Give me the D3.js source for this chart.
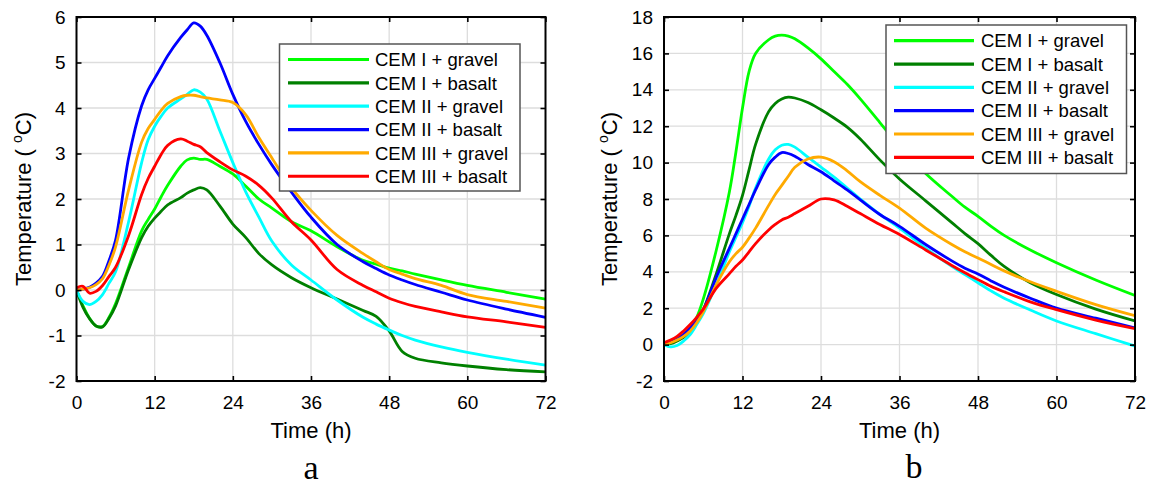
<!DOCTYPE html>
<html><head><meta charset="utf-8">
<script src="https://cdn.jsdelivr.net/npm/d3@7"></script>
<style>
body{margin:0;background:#fff}
svg{display:block}
text{font-family:"Liberation Sans",Arial,Helvetica,sans-serif;fill:#000}
text.letter{font-family:"Liberation Serif","Times New Roman",serif}
</style>
</head><body>
<svg id="chart" width="1150" height="486"></svg>
<script>
// ---------- data ----------
const seriesNames = ["CEM I + gravel","CEM I + basalt","CEM II + gravel","CEM II + basalt","CEM III + gravel","CEM III + basalt"];
const seriesColors = ["#00ff00","#008000","#00ffff","#0000ff","#ffaa00","#ff0000"];
const timeH = [0,1,2,3,4,5,6,8,10,11,12,13,14,16,17,18,19,20,22,24,26,28,30,33,36,40,44,46,48,50,52,56,60,66,72];
const xTickValues = [0,12,24,36,48,60,72];
const yTickValuesA = [-2,-1,0,1,2,3,4,5,6];
const yTickValuesB = [-2,0,2,4,6,8,10,12,14,16,18];
const panelLetters = ["a","b"];

// panel a
const a_cem1Gravel = [0,-0.35,-0.62,-0.79,-0.8,-0.6,-0.3,0.5,1.3,1.55,1.78,2.05,2.3,2.72,2.86,2.9,2.87,2.87,2.72,2.55,2.28,2.0,1.8,1.5,1.3,0.95,0.65,0.57,0.48,0.42,0.35,0.22,0.1,-0.05,-0.2];
const a_cem1Basalt = [0,-0.38,-0.63,-0.79,-0.81,-0.62,-0.35,0.45,1.15,1.4,1.58,1.73,1.87,2.03,2.13,2.2,2.25,2.2,1.85,1.45,1.15,0.8,0.55,0.27,0.05,-0.2,-0.45,-0.58,-0.9,-1.35,-1.5,-1.6,-1.67,-1.75,-1.8];
const a_cem2Gravel = [0,-0.25,-0.32,-0.25,-0.1,0.15,0.4,1.5,2.8,3.3,3.6,3.82,4.0,4.2,4.3,4.4,4.35,4.2,3.5,2.8,2.15,1.6,1.07,0.55,0.22,-0.22,-0.6,-0.75,-0.88,-1.0,-1.1,-1.25,-1.37,-1.52,-1.65];
const a_cem2Basalt = [0,0.02,0.06,0.15,0.3,0.65,1.1,2.9,4.05,4.4,4.65,4.9,5.15,5.55,5.72,5.87,5.8,5.6,5.0,4.3,3.7,3.2,2.75,2.15,1.6,1.0,0.62,0.47,0.33,0.22,0.12,-0.05,-0.22,-0.42,-0.6];
const a_cem3Gravel = [0,0.02,0.05,0.12,0.25,0.55,0.95,2.2,3.25,3.55,3.75,3.95,4.1,4.25,4.28,4.28,4.25,4.22,4.18,4.12,3.85,3.35,2.9,2.25,1.75,1.2,0.8,0.62,0.45,0.35,0.25,0.1,-0.1,-0.25,-0.4];
const a_cem3Basalt = [0.05,0.08,-0.07,-0.03,0.1,0.3,0.5,1.2,2.1,2.45,2.72,2.98,3.18,3.32,3.27,3.2,3.15,3.02,2.82,2.64,2.5,2.3,2.02,1.5,1.1,0.45,0.1,-0.04,-0.18,-0.28,-0.36,-0.48,-0.59,-0.7,-0.82];

// panel b
const b_cem1Gravel = [0,0.1,0.3,0.55,0.9,1.5,2.5,5.2,8.4,10.6,13.0,15.0,16.0,16.75,16.95,17.0,16.95,16.8,16.3,15.7,15.0,14.3,13.5,12.2,10.9,9.4,8.15,7.55,7.05,6.5,6.0,5.2,4.5,3.55,2.7];
const b_cem1Basalt = [0,0.05,0.2,0.4,0.75,1.25,1.9,3.9,6.1,7.1,8.2,9.6,11.0,12.8,13.25,13.5,13.6,13.55,13.3,12.9,12.45,11.95,11.3,10.15,9.1,7.9,6.7,6.1,5.55,4.9,4.3,3.4,2.75,1.95,1.3];
const b_cem2Gravel = [0,-0.12,-0.05,0.2,0.55,1.1,1.7,3.3,5.1,5.9,6.7,7.6,8.6,10.2,10.7,10.95,11.0,10.85,10.3,9.75,9.2,8.6,8.0,7.15,6.4,5.3,4.3,3.85,3.4,2.95,2.55,1.9,1.3,0.6,-0.08];
const b_cem2Basalt = [0.05,0.15,0.3,0.55,0.9,1.35,1.9,3.7,5.3,6.1,6.9,7.7,8.5,9.9,10.3,10.55,10.5,10.35,9.9,9.5,9.0,8.5,7.95,7.15,6.5,5.5,4.6,4.2,3.88,3.5,3.15,2.55,2.0,1.45,0.92];
const b_cem3Gravel = [0,0.1,0.25,0.45,0.75,1.2,1.8,3.3,4.55,5.0,5.35,5.85,6.4,7.65,8.25,8.75,9.25,9.75,10.2,10.3,10.05,9.55,8.95,8.2,7.5,6.4,5.5,5.1,4.76,4.4,4.05,3.45,2.93,2.2,1.59];
const b_cem3Basalt = [0.1,0.25,0.45,0.75,1.1,1.5,1.95,3.1,3.9,4.3,4.65,5.1,5.55,6.3,6.6,6.85,7.0,7.2,7.6,8.0,7.95,7.6,7.2,6.6,6.05,5.2,4.35,3.95,3.57,3.2,2.9,2.35,1.92,1.35,0.88];

// ---------- layout ----------
const panels = [
  {series:[a_cem1Gravel,a_cem1Basalt,a_cem2Gravel,a_cem2Basalt,a_cem3Gravel,a_cem3Basalt],
   yDomain:[-2,6], yTicks:yTickValuesA, left:76.5, right:545.5, top:17, bottom:381,
   legend:{x:279.5,y:44,w:240.5,h:147,row0:59.5,rowStep:23.35,lx0:288,lx1:369,tx:375},
   ylabX:31, letterX:311, letterY:479},
  {series:[b_cem1Gravel,b_cem1Basalt,b_cem2Gravel,b_cem2Basalt,b_cem3Gravel,b_cem3Basalt],
   yDomain:[-2,18], yTicks:yTickValuesB, left:664, right:1135, top:17, bottom:381,
   legend:{x:886,y:25,w:240.5,h:148.5,row0:40.7,rowStep:23.33,lx0:894,lx1:974,tx:981},
   ylabX:617, letterX:914, letterY:478}
];

const svg = d3.select("#chart");
svg.append("rect").attr("width",1150).attr("height",486).attr("fill","#fff");

panels.forEach((p,pi)=>{
  const x = d3.scaleLinear().domain([0,72]).range([p.left,p.right]);
  const y = d3.scaleLinear().domain(p.yDomain).range([p.bottom,p.top]);
  const g = svg.append("g");

  // grid
  g.append("g").selectAll("line").data(xTickValues.slice(1,-1)).join("line")
    .attr("x1",d=>x(d)).attr("x2",d=>x(d)).attr("y1",p.top).attr("y2",p.bottom)
    .attr("stroke","#dddddd").attr("stroke-width",1.3);
  g.append("g").selectAll("line").data(p.yTicks.slice(1,-1)).join("line")
    .attr("y1",d=>y(d)).attr("y2",d=>y(d)).attr("x1",p.left).attr("x2",p.right)
    .attr("stroke","#dddddd").attr("stroke-width",1.3);

  // clip
  const cid = "clip"+pi;
  svg.append("clipPath").attr("id",cid).append("rect")
    .attr("x",p.left).attr("y",p.top).attr("width",p.right-p.left).attr("height",p.bottom-p.top);

  const line = d3.line().x((d,i)=>x(timeH[i])).y(d=>y(d)).curve(d3.curveCatmullRom.alpha(0.5));
  g.append("g").attr("clip-path",`url(#${cid})`).selectAll("path").data(p.series).join("path")
    .attr("d",d=>line(d)).attr("fill","none")
    .attr("stroke",(d,i)=>seriesColors[i]).attr("stroke-width",2.8)
    .attr("stroke-linejoin","round");

  // axes
  const fmt = d=>String(d);
  const ax = g.append("g").attr("transform",`translate(0,${p.bottom})`)
    .call(d3.axisBottom(x).tickValues(xTickValues).tickSizeInner(-5).tickSizeOuter(0).tickPadding(15).tickFormat(fmt));
  const axT = g.append("g").attr("transform",`translate(0,${p.top})`)
    .call(d3.axisTop(x).tickValues(xTickValues).tickSizeInner(-5).tickSizeOuter(0).tickFormat(""));
  const ayL = g.append("g").attr("transform",`translate(${p.left},0)`)
    .call(d3.axisLeft(y).tickValues(p.yTicks).tickSizeInner(-5).tickSizeOuter(0).tickPadding(11).tickFormat(fmt));
  const ayR = g.append("g").attr("transform",`translate(${p.right},0)`)
    .call(d3.axisRight(y).tickValues(p.yTicks).tickSizeInner(-5).tickSizeOuter(0).tickFormat(""));
  [ax,axT,ayL,ayR].forEach(a=>{
    a.select(".domain").remove();
    a.selectAll(".tick line").attr("stroke","#000").attr("stroke-width",1.6);
    a.selectAll("text").style("font-size","19px").style("font-family","'Liberation Sans', Arial, sans-serif").attr("fill","#000");
  });

  // frame
  g.append("rect").attr("x",p.left).attr("y",p.top).attr("width",p.right-p.left).attr("height",p.bottom-p.top)
    .attr("fill","none").attr("stroke","#000").attr("stroke-width",2);

  // axis labels
  g.append("text").attr("x",(p.left+p.right)/2).attr("y",438).attr("text-anchor","middle")
    .style("font-size","22px").text("Time (h)");
  const yl = g.append("text").attr("transform",`translate(${p.ylabX},${(p.top+p.bottom)/2}) rotate(-90)`)
    .attr("text-anchor","middle").style("font-size","22px");
  yl.append("tspan").text("Temperature ( ");
  yl.append("tspan").style("font-size","14px").attr("dy",-9).text("o");
  yl.append("tspan").attr("dy",9).text("C)");

  // panel letter
  g.append("text").attr("class","letter").attr("x",p.letterX).attr("y",p.letterY).attr("text-anchor","middle")
    .style("font-size","34px").text(panelLetters[pi]);

  // legend
  const L = p.legend;
  const lg = g.append("g");
  lg.append("rect").attr("x",L.x).attr("y",L.y).attr("width",L.w).attr("height",L.h)
    .attr("fill","#fff").attr("stroke","#555").attr("stroke-width",1.5);
  const rows = lg.selectAll("g.row").data(seriesNames).join("g").attr("class","row")
    .attr("transform",(d,i)=>`translate(0,${L.row0+i*L.rowStep})`);
  rows.append("line").attr("x1",L.lx0).attr("x2",L.lx1).attr("y1",0).attr("y2",0)
    .attr("stroke",(d,i)=>seriesColors[i]).attr("stroke-width",3.2);
  rows.append("text").attr("x",L.tx).attr("y",6.7).style("font-size","18.5px").text(d=>d);
});
</script>
</body></html>
